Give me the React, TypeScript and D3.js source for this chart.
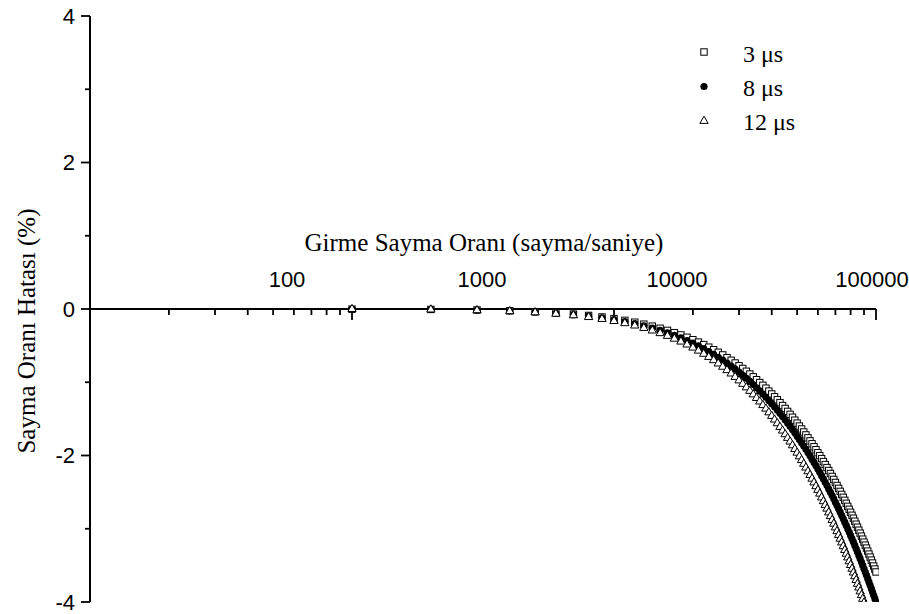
import React from 'react';
import * as d3 from 'd3';

// Input count rate (counts per second) of each measurement
const countRates = [
  1000, 2000, 3000, 4000, 5000, 6000, 7000, 8000, 9000, 10000,
  11000, 12000, 13000, 14000, 15000, 16000, 17000, 18000, 19000, 20000,
  21000, 22000, 23000, 24000, 25000, 26000, 27000, 28000, 29000, 30000,
  31000, 32000, 33000, 34000, 35000, 36000, 37000, 38000, 39000, 40000,
  41000, 42000, 43000, 44000, 45000, 46000, 47000, 48000, 49000, 50000,
  51000, 52000, 53000, 54000, 55000, 56000, 57000, 58000, 59000, 60000,
  61000, 62000, 63000, 64000, 65000, 66000, 67000, 68000, 69000, 70000,
  71000, 72000, 73000, 74000, 75000, 76000, 77000, 78000, 79000, 80000,
  81000, 82000, 83000, 84000, 85000, 86000, 87000, 88000, 89000, 90000,
  91000, 92000, 93000, 94000, 95000, 96000, 97000, 98000, 99000, 100000,
];

// Count rate error (%) for a 3 µs dead time
const error3us = [
  -0.002, -0.006, -0.014, -0.024, -0.037, -0.052, -0.069, -0.088, -0.109, -0.131,
  -0.155, -0.180, -0.207, -0.234, -0.263, -0.292, -0.323, -0.354, -0.386, -0.419,
  -0.452, -0.486, -0.521, -0.556, -0.591, -0.627, -0.664, -0.700, -0.737, -0.775,
  -0.812, -0.850, -0.888, -0.926, -0.965, -1.004, -1.042, -1.081, -1.121, -1.160,
  -1.199, -1.239, -1.278, -1.318, -1.358, -1.398, -1.438, -1.478, -1.518, -1.558,
  -1.598, -1.638, -1.679, -1.719, -1.759, -1.800, -1.840, -1.881, -1.921, -1.962,
  -2.002, -2.043, -2.083, -2.124, -2.165, -2.205, -2.246, -2.286, -2.327, -2.368,
  -2.409, -2.449, -2.490, -2.531, -2.571, -2.612, -2.653, -2.694, -2.734, -2.775,
  -2.816, -2.856, -2.897, -2.938, -2.979, -3.020, -3.060, -3.101, -3.142, -3.183,
  -3.224, -3.264, -3.305, -3.346, -3.387, -3.428, -3.468, -3.509, -3.550, -3.590,
];

// Count rate error (%) for an 8 µs dead time
const error8us = [
  -0.002, -0.007, -0.016, -0.027, -0.041, -0.058, -0.077, -0.098, -0.121, -0.146,
  -0.173, -0.201, -0.230, -0.261, -0.293, -0.326, -0.360, -0.394, -0.430, -0.467,
  -0.504, -0.542, -0.580, -0.619, -0.659, -0.699, -0.739, -0.780, -0.821, -0.863,
  -0.905, -0.947, -0.989, -1.032, -1.075, -1.118, -1.161, -1.205, -1.248, -1.292,
  -1.336, -1.380, -1.424, -1.468, -1.513, -1.557, -1.602, -1.646, -1.691, -1.736,
  -1.780, -1.825, -1.870, -1.915, -1.960, -2.005, -2.050, -2.095, -2.140, -2.185,
  -2.230, -2.276, -2.321, -2.366, -2.411, -2.457, -2.502, -2.547, -2.592, -2.638,
  -2.683, -2.728, -2.774, -2.819, -2.864, -2.910, -2.955, -3.001, -3.046, -3.091,
  -3.137, -3.182, -3.227, -3.273, -3.318, -3.364, -3.409, -3.455, -3.500, -3.546,
  -3.591, -3.636, -3.682, -3.727, -3.773, -3.818, -3.864, -3.909, -3.954, -4.000,
];

// Count rate error (%) for a 12 µs dead time
const error12us = [
  -0.002, -0.008, -0.018, -0.031, -0.047, -0.066, -0.087, -0.111, -0.137, -0.165,
  -0.195, -0.227, -0.260, -0.295, -0.331, -0.368, -0.407, -0.446, -0.486, -0.528,
  -0.570, -0.613, -0.656, -0.700, -0.745, -0.790, -0.836, -0.882, -0.929, -0.976,
  -1.023, -1.071, -1.119, -1.167, -1.216, -1.264, -1.313, -1.362, -1.412, -1.461,
  -1.511, -1.561, -1.611, -1.661, -1.711, -1.761, -1.811, -1.862, -1.912, -1.963,
  -2.013, -2.064, -2.115, -2.166, -2.217, -2.267, -2.318, -2.369, -2.420, -2.471,
  -2.522, -2.574, -2.625, -2.676, -2.727, -2.778, -2.829, -2.881, -2.932, -2.983,
  -3.034, -3.086, -3.137, -3.188, -3.239, -3.291, -3.342, -3.393, -3.445, -3.496,
  -3.547, -3.599, -3.650, -3.701, -3.753, -3.804, -3.856, -3.907, -3.958, -4.010,
  -4.061, -4.112, -4.164, -4.215, -4.266, -4.318, -4.369, -4.420, -4.472, -4.522,
];

const seriesNames = ['3 μs', '8 μs', '12 μs'];

const xLabelValues = [100, 1000, 10000, 100000];
const xMajorTicks = [100, 1000, 10000, 100000];
const xMinorTicks = [200, 300, 400, 500, 600, 700, 800, 900, 20000, 30000, 40000, 50000, 60000, 70000, 80000, 90000];
const yMajorTicks = [-4, -2, 0, 2, 4];
const yMinorTicks = [-3, -1, 1, 3];

const xTitle = 'Girme Sayma Oranı (sayma/saniye)';
const yTitle = 'Sayma Oranı Hatası (%)';

const W = 909;
const H = 614;
const SANS = '"Liberation Sans", Arial, Helvetica, sans-serif';
const SERIF = '"Liberation Serif", "Times New Roman", Times, serif';

type Kind = 'square' | 'circle' | 'triangle';

function Marker({ kind, x, y }: { kind: Kind; x: number; y: number }) {
  if (kind === 'square') {
    return <rect x={x - 3.2} y={y - 3.2} width={6.4} height={6.4} fill="#fff" stroke="#000" strokeWidth={1} />;
  }
  if (kind === 'circle') {
    return <circle cx={x} cy={y} r={3.6} fill="#000" />;
  }
  const tri = d3.symbol().type(d3.symbolTriangle).size(30)();
  return <path d={tri || ''} transform={`translate(${x},${y})`} fill="#fff" stroke="#000" strokeWidth={1} />;
}

export default function App() {
  const x = d3.scaleLog().domain([100, 100000]).range([90, 876]);
  const xLabel = d3.scaleLog().domain([10, 100000]).range([92, 872]);
  const y = d3.scaleLinear().domain([-4, 4]).range([602, 16]);
  const y0 = y(0);
  const xLeft = x.range()[0];
  const xRight = x.range()[1];

  const series: { name: string; kind: Kind; values: number[] }[] = [
    { name: seriesNames[0], kind: 'square', values: error3us },
    { name: seriesNames[1], kind: 'circle', values: error8us },
    { name: seriesNames[2], kind: 'triangle', values: error12us },
  ];

  return (
    <svg width={W} height={H} style={{ position: 'absolute', left: 0, top: 0, background: '#fff' }}>
      <defs>
        <clipPath id="plot-area">
          <rect x={xLeft} y={y(4)} width={xRight - xLeft + 3} height={y(-4) - y(4)} />
        </clipPath>
      </defs>
      <rect width={W} height={H} fill="#fff" />

      {/* y axis */}
      <line x1={xLeft} x2={xLeft} y1={y(4)} y2={y(-4)} stroke="#000" strokeWidth={2} />
      {yMajorTicks.map((t) => (
        <g key={`ym${t}`}>
          <line x1={xLeft - 9} x2={xLeft} y1={y(t)} y2={y(t)} stroke="#000" strokeWidth={1.8} />
          <text x={xLeft - 15} y={y(t)} dy="0.35em" textAnchor="end" fontFamily={SANS} fontSize={22}>
            {t}
          </text>
        </g>
      ))}
      {yMinorTicks.map((t) => (
        <line key={`yn${t}`} x1={xLeft - 5} x2={xLeft} y1={y(t)} y2={y(t)} stroke="#000" strokeWidth={1.8} />
      ))}

      {/* x axis drawn along zero */}
      <line x1={xLeft} x2={xRight} y1={y0} y2={y0} stroke="#000" strokeWidth={2} />
      {xMajorTicks.map((t) => (
        <line key={`xm${t}`} x1={x(t)} x2={x(t)} y1={y0} y2={y0 + 11} stroke="#000" strokeWidth={1.8} />
      ))}
      {xMinorTicks.map((t) => (
        <line key={`xn${t}`} x1={x(t)} x2={x(t)} y1={y0} y2={y0 + 6} stroke="#000" strokeWidth={1.8} />
      ))}
      {xLabelValues.map((t) => (
        <text key={`xl${t}`} x={xLabel(t)} y={287} textAnchor="middle" fontFamily={SANS} fontSize={22}>
          {t}
        </text>
      ))}

      {/* titles */}
      <text x={484} y={251} textAnchor="middle" fontFamily={SERIF} fontSize={25}>
        {xTitle}
      </text>
      <text transform="translate(35,331) rotate(-90)" textAnchor="middle" fontFamily={SERIF} fontSize={25}>
        {yTitle}
      </text>

      {/* data */}
      <g clipPath="url(#plot-area)">
        {series.map((s) => (
          <g key={s.name}>
            {countRates.map((n, i) => (
              <Marker key={n} kind={s.kind} x={x(n)} y={y(s.values[i])} />
            ))}
          </g>
        ))}
      </g>

      {/* legend */}
      {series.map((s, i) => (
        <g key={`lg${s.name}`}>
          <Marker kind={s.kind} x={704} y={52 + i * 34.5} />
          <text x={743} y={62 + i * 34} fontFamily={SERIF} fontSize={24}>
            {s.name}
          </text>
        </g>
      ))}
    </svg>
  );
}
